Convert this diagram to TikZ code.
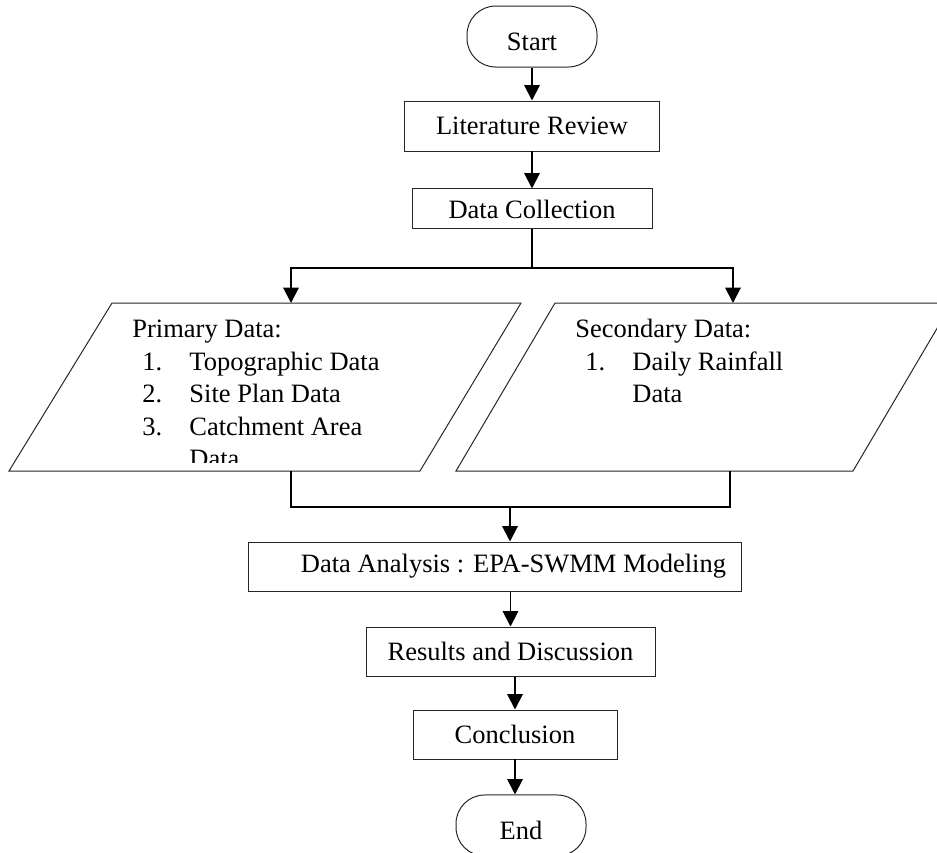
\documentclass[tikz,border=0pt]{standalone}
\usepackage{fontspec}
\setmainfont{Liberation Serif}
\usetikzlibrary{positioning,arrows.meta,calc}
\newlength{\pxunit}\setlength{\pxunit}{0.453pt}
\newcommand{\numitem}[1]{\hspace*{10\pxunit}\makebox[47\pxunit][l]{#1}}
\tikzset{
  proc/.style ={rectangle, draw=black!85, line width=0.45pt, align=center,
                font=\fontsize{12}{14.7}\selectfont, inner sep=0pt},
  term/.style ={proc, rounded corners=13pt, minimum width=130\pxunit,
                minimum height=61\pxunit, text height=13pt, text depth=0pt},
  io/.style   ={draw=black!85, line width=0.45pt},
  txt/.style  ={align=left, inner sep=0pt, anchor=base west,
                font=\fontsize{12}{14.7}\selectfont},
  arr/.style  ={-{Triangle[length=7pt,width=7pt]}, line width=0.9pt},
  lnk/.style  ={line width=0.9pt},
}

\begin{document}
\begin{tikzpicture}[x=\pxunit, y=-\pxunit]
  \useasboundingbox (0,0) rectangle (937,852);
  \clip (0,0) rectangle (937,852);

  % top of the chain
  \node[term] (start) at (532,36.5) {Start};
  \node[proc, minimum width=255\pxunit, minimum height=50\pxunit,
        below=33\pxunit of start] (lit) {Literature Review};
  \node[proc, minimum width=240\pxunit, minimum height=40\pxunit,
        below=37\pxunit of lit] (coll) {Data Collection};

  % branch points
  \coordinate (split) at (532,268);
  \coordinate (p1in) at (291,303);
  \coordinate (p2in) at (733,303);

  % primary data (base = last line)
  \coordinate (p1nw) at (112,303); \coordinate (p1ne) at (521,303);
  \coordinate (p1se) at (420,471); \coordinate (p1sw) at (9,471);
  \draw[io] (p1nw) -- (p1ne) -- (p1se) -- (p1sw) -- cycle;
  \begin{scope}
    \clip (0,290) rectangle (530,462);
    \node[txt] (prim) at (132,467.5) {Primary Data:\\
      \numitem{1.}Topographic Data\\
      \numitem{2.}Site Plan Data\\
      \numitem{3.}Catchment Area\\
      \hspace*{57\pxunit}Data};
  \end{scope}

  % secondary data
  \coordinate (p2nw) at (555,303); \coordinate (p2ne) at (952,303);
  \coordinate (p2se) at (853,471); \coordinate (p2sw) at (456,471);
  \draw[io] (p2nw) -- (p2ne) -- (p2se) -- (p2sw) -- cycle;
  \node[txt] (sec) at (575,402.5) {Secondary Data:\\
    \numitem{1.}Daily Rainfall\\
    \hspace*{57\pxunit}Data};

  % merge
  \coordinate (p1out) at (291,471);
  \coordinate (p2out) at (730,471);
  \coordinate (merge) at (510,507);

  % bottom of the chain
  \node[proc, minimum width=493\pxunit, minimum height=49\pxunit]
       (anal) at (494.5,566.5) {\hspace*{38\pxunit}Data Analysis : EPA-SWMM Modeling};
  \node[proc, minimum width=289\pxunit, minimum height=49\pxunit,
        below=35\pxunit of anal, xshift=16\pxunit] (res) {Results and Discussion};
  \node[proc, minimum width=204\pxunit, minimum height=49\pxunit,
        below=33\pxunit of res, xshift=4.5\pxunit] (concl) {Conclusion};
  \node[term, below=35\pxunit of concl, xshift=6\pxunit] (end) {End};

  % arrows
  \draw[arr] (start) -- (lit);
  \draw[arr] (lit) -- (coll);
  \draw[lnk] (coll) -- (split);
  \draw[arr] (split) -| (p1in);
  \draw[arr] (split) -| (p2in);
  \draw[lnk] (p1out) |- (merge) -| (p2out);
  \draw[arr] (merge) -- (merge |- anal.north);
  \draw[arr] (anal.south -| res) -- (res.north);
  \draw[arr] (res.south -| concl) -- (concl.north);
  \draw[arr] (concl.south) -- (concl.south |- end.north);
\end{tikzpicture}
\end{document}
